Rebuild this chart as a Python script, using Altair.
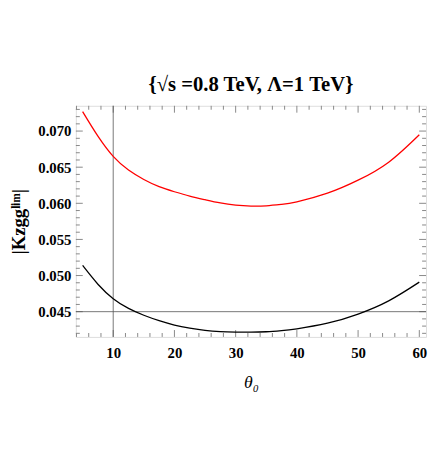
import altair as alt
import pandas as pd

theta = [5, 7.5, 10, 12.5, 15, 17.5, 20, 22.5, 25, 27.5, 30, 32.5, 35, 37.5, 40, 45, 50, 55, 60]
k_black = [0.0514, 0.0488, 0.0468, 0.04545, 0.0445, 0.04375, 0.04315, 0.04272, 0.0424,
           0.04224, 0.04218, 0.04216, 0.04222, 0.04238, 0.04263, 0.0434, 0.04467, 0.0465,
           0.04909]
k_red = [0.0727, 0.0693, 0.0665, 0.0646, 0.0633, 0.0623, 0.0616, 0.0610, 0.0605,
         0.06005, 0.05975, 0.05962, 0.05966, 0.05985, 0.0602, 0.0614, 0.0632, 0.0657, 0.0695]

x_major = [10, 20, 30, 40, 50, 60]
x_minor = [4, 6, 8, 12, 14, 16, 18, 22, 24, 26, 28, 32, 34, 36, 38, 42, 44, 46, 48,
           52, 54, 56, 58]
y_major = [0.045, 0.050, 0.055, 0.060, 0.065, 0.070]
y_minor = [0.042, 0.043, 0.044, 0.046, 0.047, 0.048, 0.049, 0.051, 0.052, 0.053, 0.054,
           0.056, 0.057, 0.058, 0.059, 0.061, 0.062, 0.063, 0.064, 0.066, 0.067, 0.068,
           0.069, 0.071, 0.072, 0.073]
ref_x = [10]
ref_y = [0.045]

W, H = 356, 235
FONT = "Liberation Serif"

xs = alt.Scale(domain=[3.9, 61.1], nice=False, zero=False)
ys = alt.Scale(domain=[0.0415, 0.0735], nice=False, zero=False)

df = pd.DataFrame({
    "theta": theta * 2,
    "k": k_black + k_red,
    "series": ["black"] * len(theta) + ["red"] * len(theta),
})

curves = alt.Chart(df).mark_line(strokeWidth=1.3, interpolate="natural", clip=True).encode(
    x=alt.X("theta:Q", scale=xs,
            axis=alt.Axis(values=x_major, ticks=False, domain=False, grid=False,
                          labelFont=FONT, labelFontWeight="bold", labelFontSize=15,
                          labelColor="black", labelPadding=9,
                          title="θ₀", titleFont=FONT, titleFontStyle="italic",
                          titleFontWeight="normal", titleFontSize=18, titleColor="black",
                          titlePadding=13)),
    y=alt.Y("k:Q", scale=ys,
            axis=alt.Axis(values=y_major, format=".3f", ticks=False, domain=False, grid=False,
                          labelFont=FONT, labelFontWeight="bold", labelFontSize=15,
                          labelColor="black", labelPadding=5,
                          title="|Kzggˡⁱᵐ|", titleFont=FONT, titleFontWeight="bold",
                          titleFontSize=19, titleColor="black", titlePadding=9)),
    color=alt.Color("series:N", scale=alt.Scale(domain=["black", "red"],
                                                range=["#000000", "#ff0000"]), legend=None),
    detail="series:N",
)

vline = alt.Chart(pd.DataFrame({"x": ref_x})).mark_rule(color="#555555", strokeWidth=0.8).encode(
    x=alt.X("x:Q", scale=xs), y=alt.value(0), y2=alt.value(H))
hline = alt.Chart(pd.DataFrame({"y": ref_y})).mark_rule(color="#555555", strokeWidth=0.8).encode(
    y=alt.Y("y:Q", scale=ys), x=alt.value(0), x2=alt.value(W))

tick_color = "#888888"
xmaj = pd.DataFrame({"x": x_major})
xmin = pd.DataFrame({"x": x_minor})
ymaj = pd.DataFrame({"y": y_major})
ymin = pd.DataFrame({"y": y_minor})

def xticks(d, L):
    b = alt.Chart(d).mark_rule(color=tick_color, strokeWidth=1).encode(
        x=alt.X("x:Q", scale=xs), y=alt.value(H), y2=alt.value(H - L))
    t = alt.Chart(d).mark_rule(color=tick_color, strokeWidth=1).encode(
        x=alt.X("x:Q", scale=xs), y=alt.value(0), y2=alt.value(L))
    return b + t

def yticks(d, L):
    l = alt.Chart(d).mark_rule(color=tick_color, strokeWidth=1).encode(
        y=alt.Y("y:Q", scale=ys), x=alt.value(0), x2=alt.value(L))
    r = alt.Chart(d).mark_rule(color=tick_color, strokeWidth=1).encode(
        y=alt.Y("y:Q", scale=ys), x=alt.value(W), x2=alt.value(W - L))
    return l + r

chart = alt.layer(
    xticks(xmaj, 7), xticks(xmin, 4), yticks(ymaj, 7), yticks(ymin, 4),
    vline, hline, curves,
).properties(
    width=W, height=H,
    title=alt.TitleParams("{√s =0.8 TeV, Λ=1 TeV}", font=FONT, fontSize=21,
                          fontWeight="bold", color="black", offset=11, anchor="middle"),
    autosize=alt.AutoSizeParams(type="none"),
    padding={"left": 69, "top": 96, "right": 2, "bottom": 80},
).configure_view(stroke="#888888", strokeWidth=1).configure(background="white")

chart.save("out.html", embed_options={"renderer": "svg", "actions": False})
